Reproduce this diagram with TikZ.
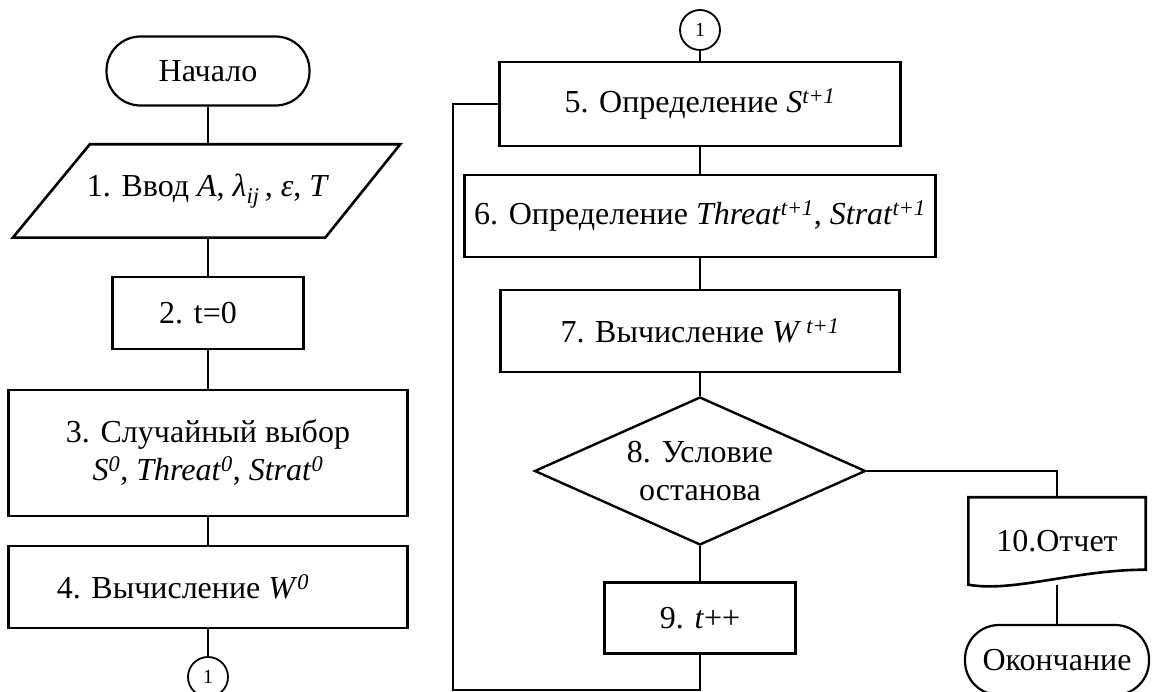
\documentclass[tikz,border=0pt]{standalone}
\usepackage{fontspec}
\setmainfont{Liberation Serif}
\usetikzlibrary{shapes.geometric}

\begin{document}
\begin{tikzpicture}[x=1pt, y=-1pt,
    font=\fontsize{32}{38}\selectfont,
    block/.style={draw, rectangle, line width=2.6pt, align=center, inner sep=0pt},
    terminal/.style={draw, rectangle, rounded corners=34pt, line width=2.2pt, inner sep=0pt},
    decision/.style={draw, diamond, aspect=2.2, line width=2.4pt, align=center, inner sep=0pt},
    joint/.style={draw, circle, line width=1.8pt, minimum size=40pt, inner sep=0pt,
        font=\fontsize{20}{22}\selectfont},
    line/.style={draw, line width=1.6pt}]
    \useasboundingbox (0,0) rectangle (1152,692);

    % left column
    \node[terminal, minimum width=203, minimum height=69] (start) at (208,71) {Начало};
    \node[minimum width=310, minimum height=93, inner sep=0pt] (input) at (208,191)
        {1. Ввод \textit{A}, \textit{λ}\textsubscript{\textit{ij}}\,, \textit{ε}, \textit{T}};
    \node[block, minimum width=191, minimum height=72] (init) at (208,313) {2. t=0\hspace{20pt}};
    \node[block, minimum width=399, minimum height=126] (rand) at (208,453)
        {3. Случайный выбор\\
         \textit{S}\textsuperscript{\textit{0}}, \textit{Threat}\textsuperscript{\textit{0}}, \textit{Strat}\textsuperscript{\textit{0}}};
    \node[block, minimum width=399, minimum height=82] (calcw0) at (208,587)
        {4. Вычисление \textit{W}\textsuperscript{\textit{0}}\hspace{50pt}};
    \node[joint] (jleft) at (208,677) {1};

    % parallelogram of the input step
    \draw[line width=2.6pt] ([xshift=-40pt]input.south west) -- ([xshift=37pt]input.north west)
        -- ([xshift=37pt]input.north east) -- ([xshift=-38pt]input.south east) -- cycle;

    % right column
    \node[joint] (jright) at (700,30) {1};
    \node[block, minimum width=401, minimum height=84] (defs) at (700,104)
        {5. Определение \textit{S}\textsuperscript{\textit{t+1}}};
    \node[block, minimum width=471, minimum height=82] (defts) at (700,216)
        {6. Определение \textit{Threat}\textsuperscript{\textit{t+1}}, \textit{Strat}\textsuperscript{\textit{t+1}}};
    \node[block, minimum width=399, minimum height=82] (calcw) at (700,331)
        {7. Вычисление \textit{W}\,\textsuperscript{\textit{t+1}}};
    \node[decision, minimum width=331, minimum height=148] (cond) at (700,471)
        {8. Условие\\останова};
    \node[block, minimum width=191, minimum height=71] (inc) at (700,618) {9. \textit{t}++};
    \node[minimum width=177, minimum height=87, inner sep=0pt] (report) at (1057,541) {10.Отчет};
    \node[terminal, minimum width=184, minimum height=70] (stop) at (1057,660) {Окончание};
    \coordinate (loopbl) at (453,690);

    % document shape
    \draw[line width=2.6pt] (report.south west) -- (report.north west) -- (report.north east)
        -- ([yshift=15pt]report.south east)
        .. controls ([xshift=-70pt,yshift=15pt]report.south east) and ([xshift=45pt,yshift=-8pt]report.south west)
        .. (report.south west) -- cycle;

    \draw[line] (start) -- (input);
    \draw[line] (input) -- (init);
    \draw[line] (init) -- (rand);
    \draw[line] (rand) -- (calcw0);
    \draw[line] (calcw0) -- (jleft);

    \draw[line] (jright) -- (defs);
    \draw[line] (defs) -- (defts);
    \draw[line] (defts) -- (calcw);
    \draw[line] (calcw) -- (cond);
    \draw[line] (cond) -- (inc);
    \draw[line] (inc) |- (loopbl) |- (defs);
    \draw[line] (cond) -| (report);
    \draw[line] (report) -- (stop);
\end{tikzpicture}
\end{document}
